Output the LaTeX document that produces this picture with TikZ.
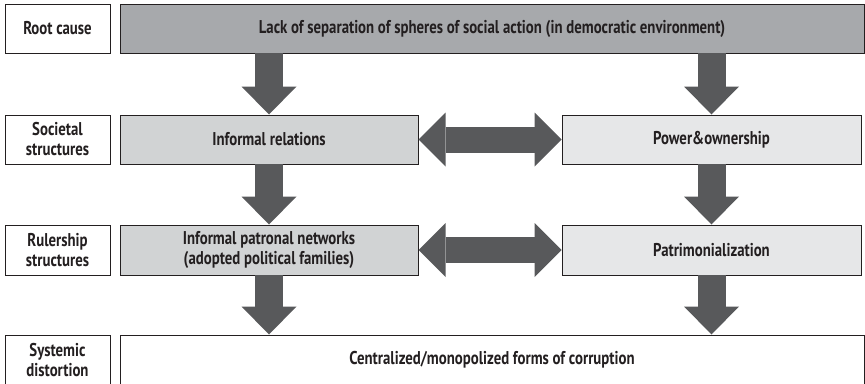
\documentclass[tikz,border=0pt]{standalone}
\usepackage{fontspec}
\setmainfont[FakeStretch=0.8]{PT Sans}
\usepackage{xcolor}
\usetikzlibrary{arrows.meta}

\definecolor{inkdark}{HTML}{231F20}
\definecolor{rootgray}{HTML}{A7A9AC}
\definecolor{midgray}{HTML}{D1D3D4}
\definecolor{palegray}{HTML}{E6E7E8}
\definecolor{arrowgray}{HTML}{58595B}

\begin{document}
\begin{tikzpicture}[x=1pt, y=-1pt,
    every node/.style={font=\bfseries\fontsize{18.5}{20}\selectfont, text=inkdark},
    box/.style={draw=inkdark, line width=1pt, inner sep=0pt, align=center, minimum height=49pt},
    rowlabel/.style={box, fill=white, minimum width=105pt},
    flowdown/.style={draw=arrowgray, line width=28pt, -{Triangle[width=55pt, length=28pt, line width=0pt]}},
    flowboth/.style={draw=arrowgray, line width=26pt, {Triangle[width=54pt, length=27pt, line width=0pt]}-{Triangle[width=54pt, length=27pt, line width=0pt]}}]
    \useasboundingbox (0,0) rectangle (865,383);
    % row labels
    \node[rowlabel] (lroot) at (57.5,28.5) {Root cause};
    \node[rowlabel] (lsoc) at (57.5,139.5) {Societal\\structures};
    \node[rowlabel, minimum height=50pt] (lrule) at (57.5,250) {Rulership\\structures};
    \node[rowlabel, minimum height=50pt] (lsys) at (57.5,360) {Systemic\\distortion};
    % main boxes
    \node[box, fill=rootgray, minimum width=744pt] (root) at (492,28.5) {Lack of separation of spheres of social action (in democratic environment)};
    \node[box, fill=midgray, minimum width=298pt] (inf) at (269,139.5) {Informal relations};
    \node[box, fill=palegray, minimum width=299pt] (pow) at (711.5,139.5) {Power\&ownership};
    \node[box, fill=midgray, minimum width=298pt, minimum height=50pt] (net) at (269,250) {Informal patronal networks\\(adopted political families)};
    \node[box, fill=palegray, minimum width=299pt, minimum height=50pt] (pat) at (711.5,250) {Patrimonialization};
    \node[box, fill=white, minimum width=744pt, minimum height=50pt] (sys) at (492,360) {Centralized/monopolized forms of corruption};
    % arrows
    \draw[flowdown] ([yshift=0.5pt]root.south -| inf.south) -- (inf.north);
    \draw[flowdown] ([yshift=0.5pt]root.south -| pow.south) -- (pow.north);
    \draw[flowdown] ([yshift=0.5pt]inf.south) -- (net.north);
    \draw[flowdown] ([yshift=0.5pt]pow.south) -- (pat.north);
    \draw[flowdown] ([yshift=0.5pt]net.south) -- (net.south |- sys.north);
    \draw[flowdown] ([yshift=0.5pt]pat.south) -- (pat.south |- sys.north);
    \draw[flowboth] (inf.east) -- (pow.west);
    \draw[flowboth] (net.east) -- (pat.west);
\end{tikzpicture}
\end{document}
